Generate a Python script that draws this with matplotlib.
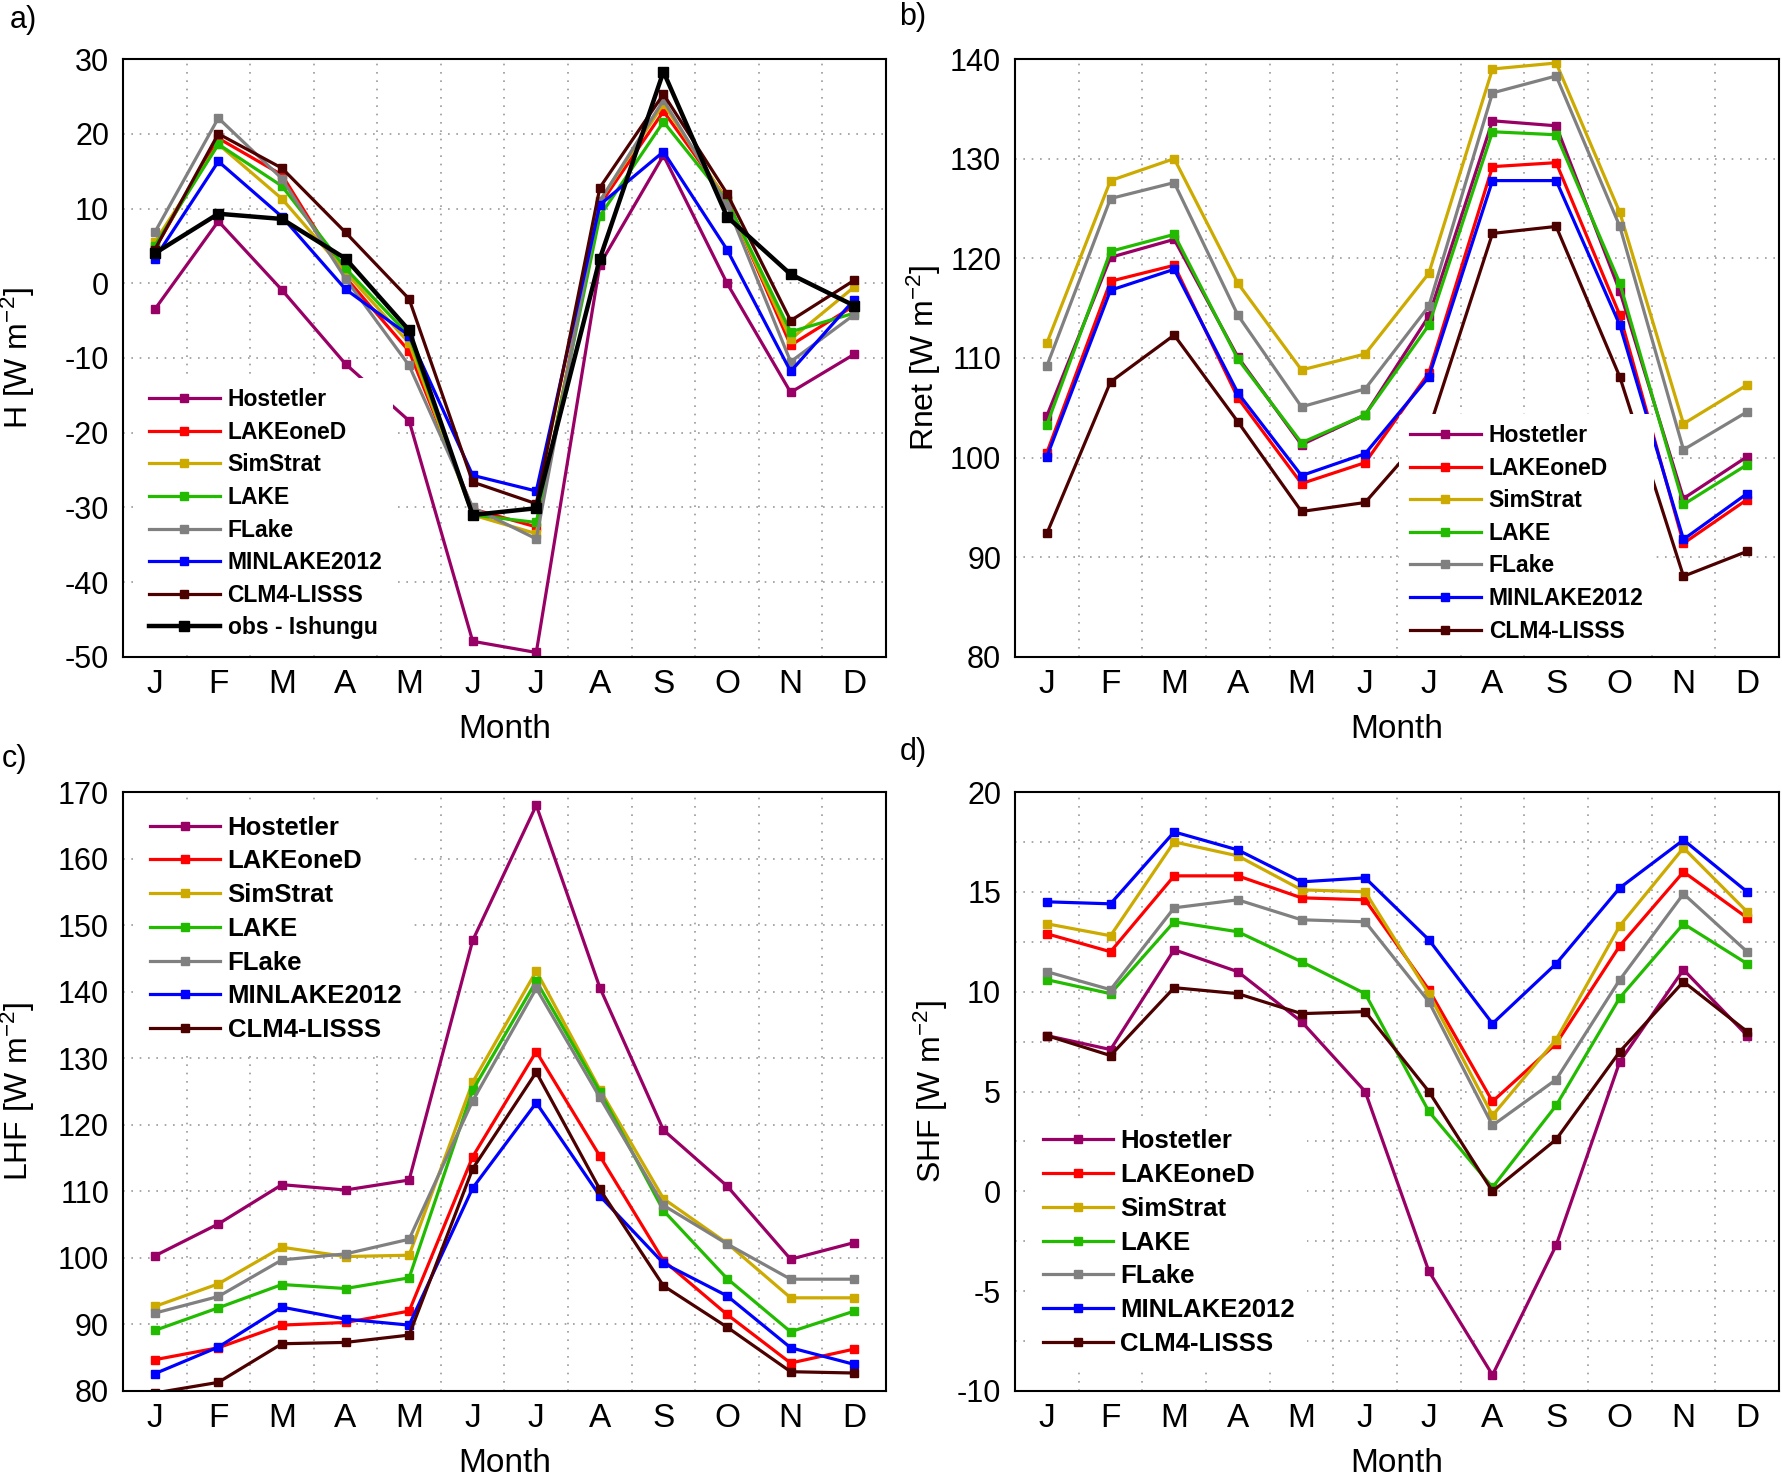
import matplotlib
matplotlib.use("Agg")
import matplotlib.pyplot as plt
import numpy as np

plt.rcParams['font.family'] = ['Liberation Sans', 'DejaVu Sans']
plt.rcParams['axes.unicode_minus'] = False
plt.rcParams['mathtext.default'] = 'regular'

months = ['J', 'F', 'M', 'A', 'M', 'J', 'J', 'A', 'S', 'O', 'N', 'D']

models = ['Hostetler', 'LAKEoneD', 'SimStrat', 'LAKE', 'FLake', 'MINLAKE2012', 'CLM4-LISSS']
colors = ['#990066', '#ff0000', '#ccaa00', '#22bb00', '#808080', '#0000ff', '#4d0000']

# a) H
h_hostetler = [-3.5, 8.3, -0.9, -10.8, -18.4, -47.9, -49.4, 2.5, 17.1, 0.0, -14.6, -9.5]
h_lakeoned = [4.6, 19.4, 14.5, 0.8, -9.1, -30.2, -32.6, 10.5, 23.0, 11.2, -8.3, -3.0]
h_simstrat = [5.5, 18.6, 11.3, 1.5, -8.0, -31.0, -33.5, 11.0, 24.0, 11.0, -7.5, -0.5]
h_lake = [5.0, 18.6, 13.0, 2.0, -7.0, -31.0, -32.0, 9.0, 21.6, 11.0, -6.5, -4.0]
h_flake = [6.8, 22.1, 14.0, 0.6, -11.0, -30.0, -34.2, 11.0, 24.5, 10.5, -10.5, -4.2]
h_minlake = [3.3, 16.3, 8.9, -0.8, -7.0, -25.7, -27.8, 10.5, 17.6, 4.5, -11.8, -2.2]
h_clm4 = [4.5, 20.0, 15.4, 6.8, -2.1, -26.6, -29.5, 12.8, 25.3, 12.0, -5.0, 0.4]
h_obs = [4.0, 9.3, 8.6, 3.3, -6.3, -31.0, -30.1, 3.3, 28.3, 8.9, 1.2, -3.0]

# b) Rnet
r_hostetler = [104.2, 120.1, 121.9, 110.1, 101.3, 104.3, 114.2, 133.8, 133.3, 116.7, 95.9, 100.1]
r_lakeoned = [100.5, 117.7, 119.3, 106.0, 97.4, 99.5, 108.5, 129.2, 129.6, 114.3, 91.4, 95.8]
r_simstrat = [111.5, 127.8, 130.0, 117.5, 108.8, 110.4, 118.5, 139.0, 139.6, 124.6, 103.4, 107.3]
r_lake = [103.3, 120.7, 122.4, 109.9, 101.5, 104.3, 113.3, 132.7, 132.4, 117.5, 95.3, 99.3]
r_flake = [109.2, 126.0, 127.6, 114.3, 105.1, 106.9, 115.2, 136.6, 138.3, 123.2, 100.8, 104.6]
r_minlake = [100.1, 116.8, 118.9, 106.5, 98.2, 100.4, 108.1, 127.8, 127.8, 113.3, 91.8, 96.4]
r_clm4 = [92.4, 107.6, 112.3, 103.6, 94.6, 95.5, 102.8, 122.5, 123.2, 108.1, 88.1, 90.6]

# c) LHF
l_hostetler = [100.3, 105.1, 111.0, 110.2, 111.7, 147.7, 168.0, 140.6, 119.2, 110.8, 99.8, 102.3]
l_lakeoned = [84.7, 86.5, 89.9, 90.3, 92.0, 115.2, 131.0, 115.3, 99.6, 91.5, 84.2, 86.3]
l_simstrat = [92.7, 96.1, 101.6, 100.2, 100.4, 126.4, 143.1, 125.3, 108.9, 102.2, 94.0, 94.0]
l_lake = [89.1, 92.5, 96.0, 95.4, 97.0, 125.2, 141.6, 125.0, 107.1, 96.9, 88.9, 92.0]
l_flake = [91.7, 94.2, 99.7, 100.6, 102.8, 123.6, 140.5, 124.1, 107.9, 102.1, 96.8, 96.8]
l_minlake = [82.6, 86.6, 92.6, 90.8, 89.9, 110.5, 123.3, 109.3, 99.2, 94.3, 86.5, 84.0]
l_clm4 = [79.7, 81.3, 87.1, 87.3, 88.4, 113.4, 127.9, 110.3, 95.8, 89.6, 82.9, 82.7]

# d) SHF
s_hostetler = [7.8, 7.1, 12.1, 11.0, 8.5, 5.0, -4.0, -9.2, -2.7, 6.5, 11.1, 7.8]
s_lakeoned = [12.9, 12.0, 15.8, 15.8, 14.7, 14.6, 10.1, 4.5, 7.4, 12.3, 16.0, 13.7]
s_simstrat = [13.4, 12.8, 17.5, 16.8, 15.1, 15.0, 9.9, 3.8, 7.6, 13.3, 17.2, 14.0]
s_lake = [10.6, 9.9, 13.5, 13.0, 11.5, 9.9, 4.0, 0.2, 4.3, 9.7, 13.4, 11.4]
s_flake = [11.0, 10.1, 14.2, 14.6, 13.6, 13.5, 9.5, 3.3, 5.6, 10.6, 14.9, 12.0]
s_minlake = [14.5, 14.4, 18.0, 17.1, 15.5, 15.7, 12.6, 8.4, 11.4, 15.2, 17.6, 15.0]
s_clm4 = [7.8, 6.8, 10.2, 9.9, 8.9, 9.0, 5.0, 0.0, 2.6, 7.0, 10.5, 8.0]

panels = [
    ('a)', 'H [W m$^{-2}$]', (-50, 30), 10, 10,
     [h_hostetler, h_lakeoned, h_simstrat, h_lake, h_flake, h_minlake, h_clm4]),
    ('b)', 'Rnet [W m$^{-2}$]', (80, 140), 10, 10,
     [r_hostetler, r_lakeoned, r_simstrat, r_lake, r_flake, r_minlake, r_clm4]),
    ('c)', 'LHF [W m$^{-2}$]', (80, 170), 10, 10,
     [l_hostetler, l_lakeoned, l_simstrat, l_lake, l_flake, l_minlake, l_clm4]),
    ('d)', 'SHF [W m$^{-2}$]', (-10, 20), 5, 2.5,
     [s_hostetler, s_lakeoned, s_simstrat, s_lake, s_flake, s_minlake, s_clm4]),
]

rects = [
    [0.069, 0.5558, 0.4282, 0.4043],
    [0.5696, 0.5558, 0.4287, 0.4043],
    [0.069, 0.0595, 0.4282, 0.405],
    [0.5696, 0.0595, 0.4287, 0.405],
]
letter_pos = [(23, 20), (913, 17), (14, 759), (913, 752)]
ylabel_x = [-0.112, -0.094, -0.112, -0.085]
# legend: anchor, font size, handle length, text pad, row spacing
leg_opts = [
    ((0.020, 0.467), 16.5, 3.1, 0.35, 0.42),
    ((0.503, 0.407), 16.5, 3.1, 0.35, 0.42),
    ((0.020, 0.980), 18.5, 2.75, 0.28, 0.38),
    ((0.021, 0.456), 18.5, 2.75, 0.28, 0.38),
]

fig = plt.figure(figsize=(17.82, 14.79), dpi=100)
x = np.arange(1, 13)
grid_style = dict(color='#999999', linestyle=(0, (1, 4)), lw=1.2)

for i, (letter, ylab, ylim, ystep, gstep, series) in enumerate(panels):
    ax = fig.add_axes(rects[i])
    for name, col, vals in zip(models, colors, series):
        ax.plot(x, vals, color=col, lw=2.3, marker='s', ms=6, label=name)
    if i == 0:
        ax.plot(x, h_obs, color='black', lw=3.2, marker='s', ms=6.5, label='obs - Ishungu')
    ax.set_xlim(0.5, 12.5)
    ax.set_ylim(*ylim)
    ax.set_xticks(x)
    ax.set_xticklabels(months, fontsize=24)
    ax.set_yticks(np.arange(ylim[0], ylim[1] + 0.1, ystep))
    ax.tick_params(axis='y', labelsize=22, length=0, pad=10)
    ax.tick_params(axis='x', length=0, pad=9)
    ax.set_xticks(np.arange(1.5, 12, 1), minor=True)
    if gstep != ystep:
        ax.set_yticks(np.arange(ylim[0] + gstep, ylim[1], ystep), minor=True)
        ax.grid(axis='y', which='minor', **grid_style)
    ax.tick_params(which='minor', length=0)
    ax.grid(axis='x', which='minor', **grid_style)
    ax.grid(axis='y', which='major', **grid_style)
    ax.grid(axis='x', which='major', visible=False)
    for sp in ax.spines.values():
        sp.set_linewidth(1.5)
    ax.set_xlabel('Month', fontsize=24, labelpad=10)
    ax.set_ylabel(ylab, fontsize=23)
    ax.yaxis.set_label_coords(ylabel_x[i], 0.5)
    anchor, fsize, hlen, tpad, lspace = leg_opts[i]
    leg = ax.legend(loc='upper left', bbox_to_anchor=anchor, frameon=True,
                    prop={'weight': 'bold', 'size': fsize},
                    handlelength=hlen, handletextpad=tpad, labelspacing=lspace,
                    borderpad=0.45, borderaxespad=0)
    leg.get_frame().set_facecolor('white')
    leg.get_frame().set_edgecolor('none')
    leg.get_frame().set_alpha(1)
    fig.text(letter_pos[i][0] / 1782, 1 - letter_pos[i][1] / 1479, letter,
             fontsize=22, ha='center', va='center')

fig.savefig('out.png', dpi=100)
